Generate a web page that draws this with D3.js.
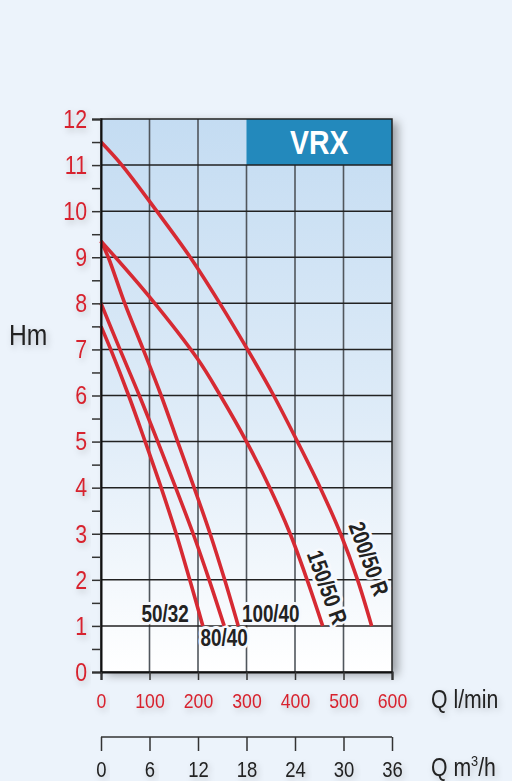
<!DOCTYPE html>
<html>
<head>
<meta charset="utf-8">
<script src="https://cdn.jsdelivr.net/npm/d3@7"></script>
<style>
  html,body{margin:0;padding:0;background:#ecf3fb;}
  svg{display:block;}
  text{font-family:"Liberation Sans",Arial,sans-serif;}
</style>
</head>
<body>
<svg id="chart" width="512" height="781"></svg>
<script>
// ---- data ----
const qTicks = [0, 100, 200, 300, 400, 500, 600];          // l/min
const m3hTicks = [0, 6, 12, 18, 24, 30, 36];                // m3/h
const hTicks = [0,1,2,3,4,5,6,7,8,9,10,11,12];              // m
const curveNames = ["50/32", "80/40", "100/40", "150/50 R", "200/50 R"];
const curve50_32  = [[0,7.5],[20,7.0],[57,6.0],[91,5.0],[124,4.0],[155,3.0],[183,2.0],[210,1.0]];
const curve80_40  = [[0,8.0],[39,7.0],[79,6.0],[117,5.0],[154,4.0],[190,3.0],[223,2.0],[254,1.0]];
const curve100_40 = [[0,9.35],[15,9.0],[49,8.0],[87,7.0],[124,6.0],[158,5.0],[192,4.0],[225,3.0],[255,2.0],[283,1.0]];
const curve150_50 = [[0,9.35],[100,8.14],[200,6.78],[246,6.0],[300,5.0],[348,4.0],[390,3.0],[425,2.0],[457,1.0]];
const curve200_50 = [[0,11.5],[43,11.0],[115,10.0],[184,9.0],[245,8.0],[302,7.0],[356,6.0],[405,5.0],[452,4.0],[494,3.0],[529,2.0],[558,1.0]];
const curves = [curve50_32, curve80_40, curve100_40, curve150_50, curve200_50];
const title = "VRX";

// ---- helpers ----
function condense(sel, f) {
  sel.each(function () {
    const w = this.getComputedTextLength();
    if (w > 0) d3.select(this).attr("textLength", w * f).attr("lengthAdjust", "spacingAndGlyphs");
  });
}

// ---- layout ----
const svg = d3.select("#chart");
const x = d3.scaleLinear().domain([0, 600]).range([101, 392]);
const xm = d3.scaleLinear().domain([0, 36]).range([101, 392]);
const y = d3.scaleLinear().domain([0, 12]).range([672, 119]);
const red = "#d7242f";
const curveRed = "#d62a33";

const defs = svg.append("defs");
const grad = defs.append("linearGradient").attr("id","bg").attr("x1",0).attr("y1",0).attr("x2",0).attr("y2",1);
grad.append("stop").attr("offset","0%").attr("stop-color","#c4dcf2");
grad.append("stop").attr("offset","55%").attr("stop-color","#dfecf8");
grad.append("stop").attr("offset","100%").attr("stop-color","#ffffff");
const sh = defs.append("filter").attr("id","shadow").attr("x","-10%").attr("y","-10%").attr("width","130%").attr("height","130%");
sh.append("feDropShadow").attr("dx",6).attr("dy",3).attr("stdDeviation",5).attr("flood-color","#000").attr("flood-opacity",0.35);
const tsh = defs.append("filter").attr("id","tshadow").attr("x","-30%").attr("y","-30%").attr("width","160%").attr("height","160%");
tsh.append("feDropShadow").attr("dx",2).attr("dy",3).attr("stdDeviation",3).attr("flood-color","#000").attr("flood-opacity",0.2);

// plot background
svg.append("rect").attr("x",x(0)).attr("y",y(12)).attr("width",x(600)-x(0)).attr("height",y(0)-y(12))
  .attr("fill","url(#bg)").attr("filter","url(#shadow)");

// title box
svg.append("rect").attr("x",x(300)).attr("y",y(12)).attr("width",x(600)-x(300)).attr("height",y(11)-y(12))
  .attr("fill","#2389bc");
const tt = svg.append("text").attr("x",(x(300)+x(600))/2).attr("y",y(11)-11)
  .attr("text-anchor","middle").attr("font-weight","bold").attr("font-size",33).attr("fill","#fff").text(title);
condense(tt, 0.86);

// grid
const grid = svg.append("g");
grid.selectAll("line.v").data(qTicks.slice(1,-1)).join("line").attr("class","v")
  .attr("x1",d=>x(d)).attr("x2",d=>x(d))
  .attr("y1",d=>d>=300?y(11):y(12)).attr("y2",y(0))
  .attr("stroke","#50565c").attr("stroke-width",1.6);
grid.selectAll("line.h").data(hTicks.slice(1,-1)).join("line").attr("class","h")
  .attr("x1",x(0)).attr("x2",x(600)).attr("y1",d=>y(d)).attr("y2",d=>y(d))
  .attr("stroke","#222").attr("stroke-width",1.5);

// frame
svg.append("rect").attr("x",x(0)).attr("y",y(12)).attr("width",x(600)-x(0)).attr("height",y(0)-y(12))
  .attr("fill","none").attr("stroke","#222").attr("stroke-width",1.5);

// curve labels (with halo)
const lab = svg.append("g").attr("font-weight","bold").attr("font-size",23).attr("fill","#222");
const labelSpecs = [
  {name: curveNames[0], q:132, h:1.09, rot:0},
  {name: curveNames[1], q:254, h:0.56, rot:0},
  {name: curveNames[2], q:350, h:1.09, rot:0},
  {name: curveNames[3], q:467, h:1.84, rot:70},
  {name: curveNames[4], q:553, h:2.46, rot:70}
];
labelSpecs.forEach(s=>{
  lab.append("text")
    .attr("transform", `translate(${x(s.q)},${y(s.h)}) rotate(${s.rot})`)
    .attr("text-anchor","middle")
    .attr("dy", s.rot ? "0.36em" : 0)
    .attr("stroke","#f6f9fd").attr("stroke-width",6).attr("paint-order","stroke")
    .attr("stroke-linejoin","round")
    .text(s.name);
});
condense(lab.selectAll("text"), 0.82);

// curves
const line = d3.line().x(d=>x(d[0])).y(d=>y(d[1])).curve(d3.curveCatmullRom.alpha(0.5));
svg.append("g").selectAll("path").data(curves).join("path")
  .attr("d", line).attr("fill","none").attr("stroke",curveRed).attr("stroke-width",3.6)
  .attr("stroke-linecap","butt");

// y axis
const yAxis = d3.axisLeft(y).tickValues(d3.range(0,12.01,0.5)).tickSize(9).tickPadding(5)
  .tickFormat(d=> Number.isInteger(d) ? d : "");
const gy = svg.append("g").attr("transform",`translate(${x(0)},0)`).call(yAxis);
gy.select(".domain").attr("stroke","#111").attr("stroke-width",2);
gy.selectAll(".tick line").attr("stroke","#333").attr("stroke-width",1.5);
gy.selectAll(".tick text").attr("font-size",26).attr("fill",red)
  .attr("font-family",'"Liberation Sans",Arial,sans-serif').attr("filter","url(#tshadow)");
condense(gy.selectAll(".tick text"), 0.82);

// x axis (l/min)
const xAxis = d3.axisBottom(x).tickValues(qTicks).tickSize(8).tickPadding(13);
const gx = svg.append("g").attr("transform",`translate(0,${y(0)})`).call(xAxis);
gx.select(".domain").attr("stroke","#111").attr("stroke-width",2);
gx.selectAll(".tick line").attr("stroke","#333").attr("stroke-width",1.5);
gx.selectAll(".tick text").attr("font-size",21).attr("fill",red)
  .attr("font-family",'"Liberation Sans",Arial,sans-serif').attr("filter","url(#tshadow)");
condense(gx.selectAll(".tick text"), 0.84);

// x axis (m3/h)
const xAxis2 = d3.axisBottom(xm).tickValues(m3hTicks).tickSize(14).tickSizeOuter(14).tickPadding(10);
const gx2 = svg.append("g").attr("transform","translate(0,737)").call(xAxis2);
gx2.select(".domain").attr("stroke","#333").attr("stroke-width",1.5).attr("d",`M${xm(0)},0H${xm(36)}`);
gx2.selectAll(".tick line").attr("stroke","#333").attr("stroke-width",1.5);
gx2.selectAll(".tick text").attr("font-size",22).attr("fill","#222")
  .attr("font-family",'"Liberation Sans",Arial,sans-serif').attr("filter","url(#tshadow)");
condense(gx2.selectAll(".tick text"), 0.84);

// axis titles
const at = svg.append("g").attr("fill","#222").attr("filter","url(#tshadow)");
at.append("text").attr("transform","translate(9,345) scale(0.85,1)").attr("font-size",29).text("Hm");
at.append("text").attr("transform","translate(431,708) scale(0.85,1)").attr("font-size",25).text("Q l/min");
const t2 = at.append("text").attr("transform","translate(431,776) scale(0.85,1)").attr("font-size",25);
t2.append("tspan").text("Q m");
t2.append("tspan").attr("font-size",15).attr("dy",-10).text("3");
t2.append("tspan").attr("dy",10).text("/h");
</script>
</body>
</html>
